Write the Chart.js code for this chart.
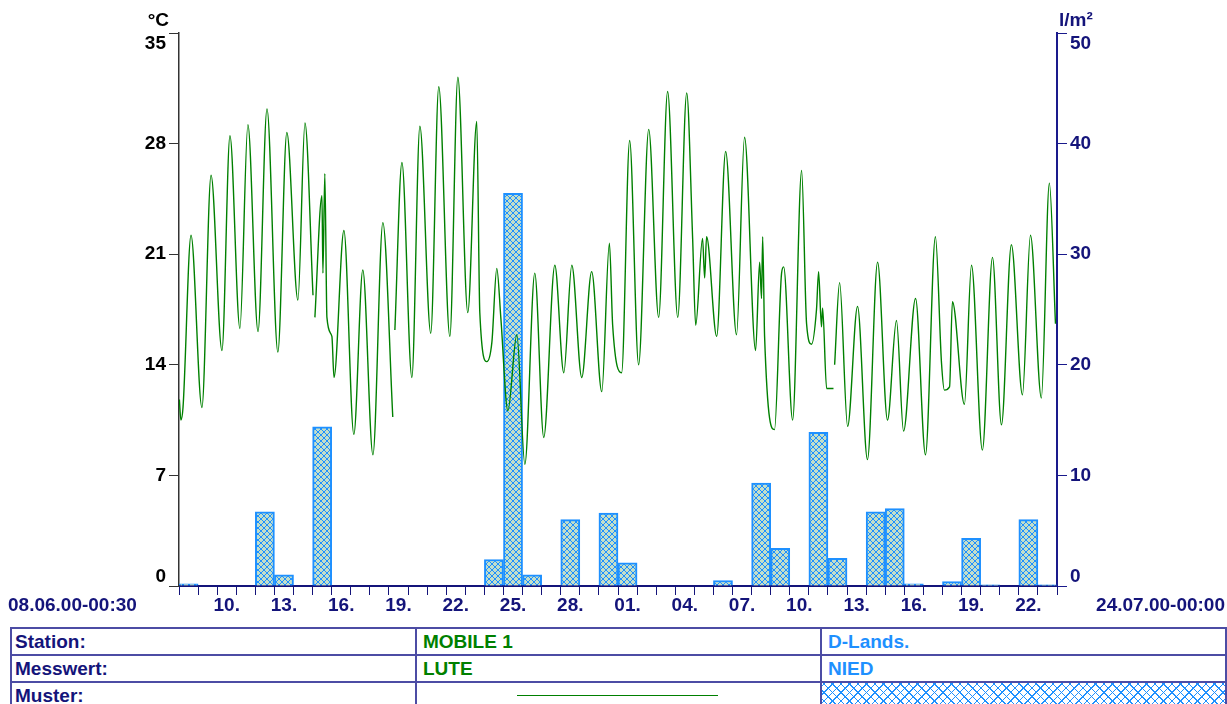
<!DOCTYPE html>
<html>
<head>
<meta charset="utf-8">
<script src="https://cdn.jsdelivr.net/npm/chart.js@4.4.0/dist/chart.umd.min.js"></script>
<style>
  html, body { margin: 0; padding: 0; background: #fff; width: 1227px; height: 704px; overflow: hidden; }
  body { font-family: "Liberation Sans", Arial, sans-serif; }
  #wrap { position: absolute; left: 0; top: 0; width: 1227px; height: 620px; }
  #legendTable { position: absolute; left: 10px; top: 627px; border-collapse: collapse; table-layout: fixed; }
  #legendTable td { border: 2px solid #4c4ca4; height: 25px; padding: 0 0 0 3px; font-weight: bold; font-size: 19px; line-height: 19px; color: #14147a; white-space: nowrap; }
  #legendTable td.g { color: #008000; padding-left: 6px; }
  #legendTable td.b { color: #1e90ff; padding-left: 6px; }
  #legendTable td.line { position: relative; }
  #legendTable td.line div { position: absolute; left: 100px; right: 102px; top: 12px; border-top: 1px solid #008000; }
  #legendTable td.hatch { border-top: 2px solid #1e90ff; background:
      repeating-linear-gradient(45deg, #1e90ff 0 1px, transparent 1px 6px),
      repeating-linear-gradient(-45deg, #1e90ff 0 1px, transparent 1px 6px), #fff; }
</style>
</head>
<body>
<div id="wrap"><canvas id="chart" width="1227" height="620"></canvas></div>
<table id="legendTable">
  <colgroup><col style="width:405px"><col style="width:405px"><col style="width:405px"></colgroup>
  <tr><td>Station:</td><td class="g">MOBILE 1</td><td class="b">D-Lands.</td></tr>
  <tr><td>Messwert:</td><td class="g">LUTE</td><td class="b">NIED</td></tr>
  <tr><td>Muster:</td><td class="line"><div></div></td><td class="hatch"></td></tr>
</table>
<script>
// Lufttemperatur (LUTE), days since 08.06.00 00:00
const tempDays = [0.02,0.10,0.21,0.63,1.20,1.68,2.25,2.67,3.19,3.61,
  4.14,4.61,5.18,5.65,6.23,6.60,7.02,7.07,7.12,7.49,
  7.54,7.64,7.75,8.01,8.12,8.64,9.16,9.63,10.16,10.68,
  11.20,11.25,11.31,11.68,12.20,12.62,13.19,13.61,14.19,14.61,
  15.13,15.60,15.76,16.13,16.39,16.65,16.86,17.23,17.70,18.12,
  18.64,19.11,19.69,20.16,20.58,21.10,21.62,22.15,22.55,22.72,
  23.19,23.61,24.08,24.61,25.13,25.60,26.13,26.60,26.91,27.07,
  27.43,27.54,27.64,28.17,28.64,29.21,29.63,30.21,30.42,30.52,
  30.58,30.68,31.20,31.57,31.68,32.15,32.62,32.88,33.14,33.40,
  33.51,33.66,33.72,33.93,34.29,34.32,34.35,34.61,35.03,35.55,
  36.07,36.60,37.12,37.59,37.96,38.59,39.11,39.63,39.95,40.10,
  40.37,40.52,41.15,41.52,42.09,42.62,43.09,43.61,44.19,44.61,
  45.18,45.60,45.92];
const tempValues = [11.8,10.5,11.3,22.2,11.3,26.0,14.9,28.5,16.3,29.2,
  16.1,30.2,14.8,28.7,18.1,29.3,18.4,null,17.0,24.7,
  19.8,26.1,17.0,15.8,13.2,22.5,9.6,20.0,8.3,23.0,
  10.7,null,16.2,26.8,13.2,29.1,16.0,31.6,15.8,32.2,
  17.3,29.4,17.3,14.2,15.4,20.1,17.0,11.1,15.9,7.7,
  19.8,9.4,20.3,13.5,20.3,13.2,19.9,12.3,21.7,16.5,
  13.5,28.2,14.0,28.9,17.0,31.3,17.0,31.2,22.0,16.5,
  22.0,19.5,22.1,15.8,27.5,15.9,28.4,14.9,20.5,18.2,
  22.1,15.8,9.9,19.8,20.2,10.5,26.3,16.6,15.3,17.5,
  19.9,16.4,17.6,12.5,12.5,null,14.0,19.2,10.1,17.7,
  8.0,20.5,10.5,16.8,9.8,18.2,8.3,22.1,14.1,12.4,
  12.6,18.0,11.5,20.3,8.6,20.8,10.2,21.6,12.1,22.2,
  11.9,25.5,16.6];

// Niederschlag (NIED), daily sums l/m², one per day from 08.06.
const rainValues = [0.2,0,0,0,6.7,1.0,0,14.4,0,0,
  0,0,0,0,0,0,2.4,35.5,1.0,0,
  6.0,0,6.6,2.1,0,0,0,0,0.5,0,
  9.3,3.4,0,13.9,2.5,0,6.7,7.0,0.2,0,
  0.4,4.3,0.1,0,6.0,0.1];

const leftTicks = [0, 7, 14, 21, 28, 35];
const rightTicks = [0, 10, 20, 30, 40, 50];
const xLabelDays = [2, 5, 8, 11, 14, 17, 20, 23, 26, 29, 32, 35, 38, 41, 44];
const xLabels = ['10.', '13.', '16.', '19.', '22.', '25.', '28.', '01.', '04.', '07.', '10.', '13.', '16.', '19.', '22.'];
const startLabel = '08.06.00-00:30';
const endLabel = '24.07.00-00:00';
const totalDays = 46;

const NAVY = '#14147a';
const AXIS_BLUE = '#1a1a8c';
const FONT = 'bold 19px "Liberation Sans", Arial, sans-serif';

function hatchPattern(ctx) {
  const s = 6;
  const c = document.createElement('canvas');
  c.width = s; c.height = s;
  const g = c.getContext('2d');
  g.fillStyle = '#c3dfc9';
  g.fillRect(0, 0, s, s);
  g.strokeStyle = '#1e90ff';
  g.lineWidth = 1;
  g.beginPath();
  g.moveTo(0, 0); g.lineTo(s, s);
  g.moveTo(s, 0); g.lineTo(0, s);
  g.stroke();
  return ctx.createPattern(c, 'repeat');
}

const axisText = {
  id: 'axisText',
  afterDraw(chart) {
    const { ctx, chartArea, scales } = chart;
    ctx.save();
    ctx.font = FONT;
    ctx.textBaseline = 'middle';
    const clampY = y => Math.min(Math.max(y, chartArea.top + 11), chartArea.bottom - 9);

    ctx.fillStyle = '#000';
    ctx.textAlign = 'right';
    leftTicks.forEach(v => ctx.fillText(String(v), chartArea.left - 13, clampY(scales.y.getPixelForValue(v))));
    ctx.fillText('°C', chartArea.left - 10, 21);

    ctx.fillStyle = NAVY;
    ctx.textAlign = 'left';
    rightTicks.forEach(v => ctx.fillText(String(v), chartArea.right + 13, clampY(scales.y2.getPixelForValue(v))));
    ctx.fillText('l/m²', chartArea.right + 2, 21);

    const ly = chartArea.bottom + 20;
    ctx.textAlign = 'center';
    xLabelDays.forEach((d, i) => ctx.fillText(xLabels[i], scales.x.getPixelForValue(d + 0.5), ly));
    ctx.textAlign = 'left';
    ctx.fillText(startLabel, 8, ly);
    ctx.textAlign = 'right';
    ctx.fillText(endLabel, 1225, ly);
    ctx.restore();
  }
};

const canvas = document.getElementById('chart');
const ctx = canvas.getContext('2d');

new Chart(canvas, {
  data: {
    datasets: [
      {
        type: 'line',
        label: 'LUTE',
        data: tempDays.map((d, i) => ({ x: d, y: tempValues[i] })),
        yAxisID: 'y',
        borderColor: '#008000',
        borderWidth: 1.4,
        pointRadius: 0,
        cubicInterpolationMode: 'monotone',
        spanGaps: false,
        order: 0,
      },
      {
        type: 'bar',
        label: 'NIED',
        data: rainValues.map((v, i) => ({ x: i + 0.5, y: v })),
        yAxisID: 'y2',
        backgroundColor: hatchPattern(ctx),
        borderColor: '#1e90ff',
        borderWidth: 2,
        barPercentage: 1,
        categoryPercentage: 1,
        order: 1,
      },
    ],
  },
  options: {
    responsive: false,
    animation: false,
    devicePixelRatio: 1,
    layout: { padding: { top: 33, left: 0, right: 0, bottom: 0 } },
    plugins: { legend: { display: false }, tooltip: { enabled: false } },
    scales: {
      x: {
        type: 'linear', min: 0, max: totalDays, offset: false,
        ticks: { stepSize: 1, display: false, autoSkip: false },
        grid: { offset: false, drawOnChartArea: false, drawTicks: true, tickLength: 9, color: NAVY, lineWidth: 1 },
        border: { color: NAVY, width: 2 },
        afterFit: s => { s.height = 34; },
      },
      y: {
        position: 'left', min: 0, max: 35,
        ticks: { stepSize: 7, display: false },
        grid: { drawOnChartArea: false, tickLength: 10, color: '#333', lineWidth: 1 },
        border: { color: '#333', width: 1.5 },
        afterFit: s => { s.width = 179; },
      },
      y2: {
        position: 'right', min: 0, max: 50,
        ticks: { stepSize: 10, display: false },
        grid: { drawOnChartArea: false, tickLength: 10, color: AXIS_BLUE, lineWidth: 1 },
        border: { color: AXIS_BLUE, width: 2 },
        afterFit: s => { s.width = 170; },
      },
    },
  },
  plugins: [axisText],
});
</script>
</body>
</html>
